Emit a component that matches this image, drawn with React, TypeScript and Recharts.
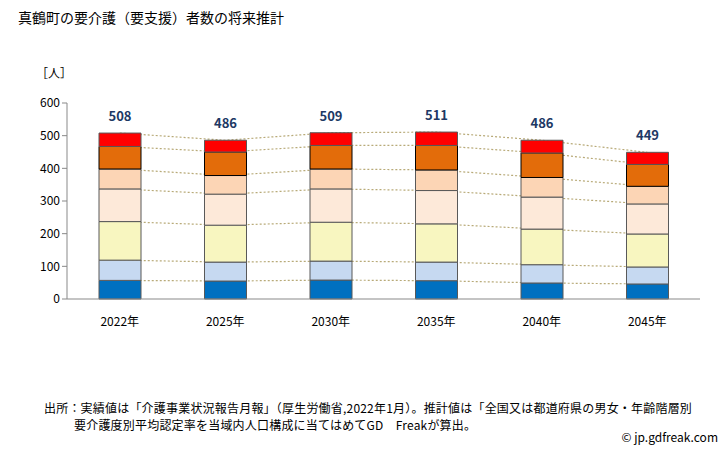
import { Bar, ComposedChart, LabelList, Line, XAxis, YAxis } from 'recharts'

const years = ['2022年', '2025年', '2030年', '2035年', '2040年', '2045年']

// 要支援1 .. 要介護5 (下から上)
const shien1 = [57, 55, 58, 56, 49, 46]
const shien2 = [62, 58, 58, 57, 56, 52]
const kaigo1 = [118, 113, 119, 117, 109, 101]
const kaigo2 = [100, 95, 102, 102, 98, 92]
const kaigo3 = [61, 57, 61, 63, 60, 54]
const kaigo4 = [69, 72, 72, 75, 75, 67]
const kaigo5 = [41, 36, 39, 41, 39, 37]

const yTicks = [0, 100, 200, 300, 400, 500, 600]

const series = [
  { key: 's1', values: shien1, color: '#0070c0', stroke: '#595959' },
  { key: 's2', values: shien2, color: '#c6d9f1', stroke: '#595959' },
  { key: 'k1', values: kaigo1, color: '#f8f6c0', stroke: '#595959' },
  { key: 'k2', values: kaigo2, color: '#fde9d9', stroke: '#595959' },
  { key: 'k3', values: kaigo3, color: '#fcd5b5', stroke: '#595959' },
  { key: 'k4', values: kaigo4, color: '#e36c0a', stroke: '#000000' },
  { key: 'k5', values: kaigo5, color: '#ff0000', stroke: '#595959' },
]

const data = years.map((year, i) => {
  const row: { [key: string]: number | string } = { year }
  let sum = 0
  series.forEach((s, j) => {
    row[s.key] = s.values[i]
    sum += s.values[i]
    row[`c${j}`] = sum
  })
  row.total = sum
  return row
})

const font = '"Noto Sans CJK JP", "Noto Sans", sans-serif'

export default function App() {
  return (
    <div style={{ position: 'absolute', left: 0, top: 0, width: 728, height: 450, background: '#fff', fontFamily: font }}>
      <div style={{ position: 'absolute', left: 18, top: 7, fontSize: 14, color: '#000' }}>
        真鶴町の要介護（要支援）者数の将来推計
      </div>
      <div style={{ position: 'absolute', left: 36, top: 64, fontSize: 12, color: '#000' }}>［人］</div>
      <ComposedChart
        width={728}
        height={450}
        data={data}
        margin={{ top: 103, right: 28, left: 17, bottom: 131 }}
      >
        <XAxis
          dataKey="year"
          axisLine={{ stroke: '#898989' }}
          tickLine={false}
          tickMargin={12}
          height={20}
          tick={{ fontSize: 12, fill: '#000', fontFamily: font }}
        />
        <YAxis
          domain={[0, 600]}
          ticks={yTicks}
          width={50}
          axisLine={{ stroke: '#898989' }}
          tickLine={{ stroke: '#898989' }}
          tickSize={5}
          tick={{ fontSize: 12, fill: '#000', fontFamily: font }}
        />
        {series.map((s, j) => (
          <Line
            key={`c${j}`}
            dataKey={`c${j}`}
            type="linear"
            stroke="#b8aa78"
            strokeWidth={1.2}
            strokeDasharray="2 2"
            dot={false}
            activeDot={false}
            isAnimationActive={false}
            zIndex={0}
          />
        ))}
        {series.map((s, j) => (
          <Bar
            key={s.key}
            dataKey={s.key}
            stackId="a"
            fill={s.color}
            stroke={s.stroke}
            strokeWidth={1}
            barSize={42}
            isAnimationActive={false}
          >
            {j === series.length - 1 && (
              <LabelList
                dataKey="total"
                position="top"
                offset={12}
                style={{ fontSize: 13, fontWeight: 'bold', fill: '#203864', fontFamily: font }}
              />
            )}
          </Bar>
        ))}
      </ComposedChart>
      <div style={{ position: 'absolute', left: 44, top: 399, fontSize: 12, color: '#000', lineHeight: '17px', whiteSpace: 'nowrap', letterSpacing: 0.2 }}>
        出所：実績値は「介護事業状況報告月報」（厚生労働省,2022年1月）。推計値は「全国又は都道府県の男女・年齢階層別
        <br />
        <span style={{ paddingLeft: 30 }}>要介護度別平均認定率を当域内人口構成に当てはめてGD　Freakが算出。</span>
      </div>
      <div style={{ position: 'absolute', right: 10, top: 428, fontSize: 12, color: '#000' }}>© jp.gdfreak.com</div>
    </div>
  )
}
